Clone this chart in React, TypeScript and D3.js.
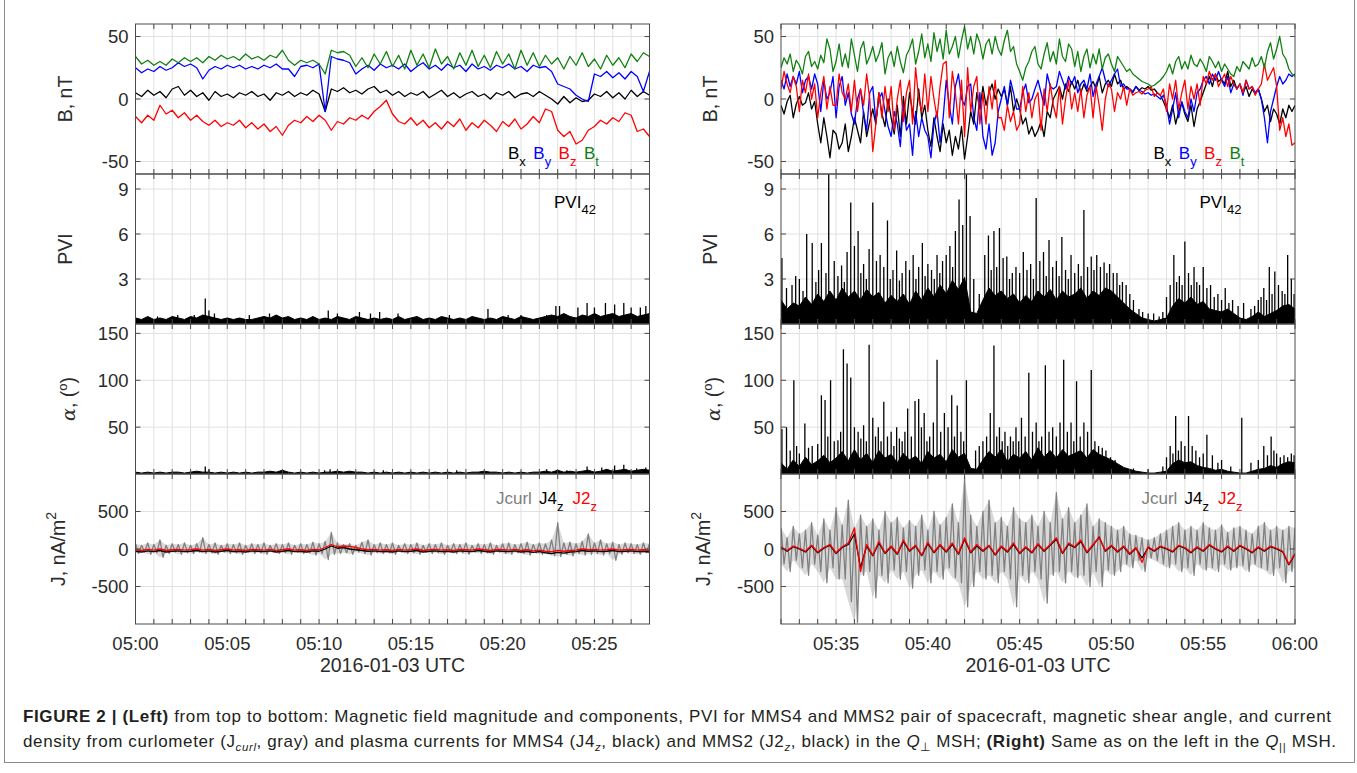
import React from "react";
import * as d3 from "d3";

// ---------------- DATA ----------------
const leftTimeTicks = [0, 5, 10, 15, 20, 25];
const leftTimeLabels = ["05:00", "05:05", "05:10", "05:15", "05:20", "05:25"];
const rightTimeTicks = [3, 8, 13, 18, 23, 28];
const rightTimeLabels = ["05:35", "05:40", "05:45", "05:50", "05:55", "06:00"];

const bTicks = [-50, 0, 50];
const pviTicks = [3, 6, 9];
const alphaTicks = [50, 100, 150];
const jTicks = [-500, 0, 500];

// Left (Q-perp) magnetic field, nT (20 s samples)
const leftBt = [34,28,31,27, 30,27,32, 29,33,30, 33,29,34, 31,35,32, 34,31,36, 32,34,31, 35,33,39, 31,27,31, 29,31,28, 20,39,37, 38,35,26, 33,25,36, 28,38,26, 35,24,39, 27,36,25, 40,28,34, 24,37,27, 39,26,35, 25,38,28, 36,24,39, 27,37,26, 35,28,33, 24,34,27, 37,26,32, 24,35,27, 33,25,36, 30,37,34];
const leftBy = [25,21,24,22, 26,23,25, 29,26,28, 25,16,23, 26,24,27, 25,27,24, 26,24,27, 25,28,24, 24,18,26, 27,25,28, -10,34,32, 31,29,20, 24,27,23, 28,25,27, 24,28,22, 26,29,24, 27,23,28, 25,27,22, 28,24,26, 23,27,25, 28,24,26, 22,27,25, 26,22,12, 10,8,3, 0,-2,20, 18,22,17, 21,16,22, 18,6,22];
const leftBx = [5,2,7,3, 6,1,8, 10,3,7, 2,5,-1, 6,2,4, 1,5,3, 6,2,4, -1,5,3, 6,2,5, 3,7,4, -10,8,6, 9,5,7, 4,8,10, 5,7,3, 6,2,5, 3,6,1, 4,7,2, 5,1,4, 6,2,4, 0,5,3, 6,1,4, 5,2,6, 3,0,-4, 2,-3,1, -2,-1,4, 2,6,1, 5,0,7, 2,6,3];
const leftBz = [-14,-19,-13,-17, -5,-12,-9, -15,-11,-17, -13,-18,-21, -17,-22,-19, -21,-17,-23, -19,-24,-20, -26,-22,-29, -21,-17,-19, -14,-18,-13, -17,-25,-18, -20,-15,-17, -13,-16,-10, -6,-1,-12, -18,-20,-15, -21,-17,-23, -19,-24,-18, -22,-16,-25, -19,-23,-17, -21,-26,-18, -22,-16,-24, -20,-14,-19, -8,-10,-25, -30,-26,-36, -33,-25,-22, -17,-20,-15, -18,-11,-13, -26,-24,-30];

// Right (Q-parallel) magnetic field, nT (10 s samples, one row per minute)
const rightBt = [
  25,33,28,36,22,31, 27,20,34,38,26,30, 24,35,29,48,40,22, 30,44,26,36,25,48,
  35,22,40,46,28,34, 42,30,36,45,20,33, 38,26,42,30,21,35, 40,48,28,38,52,33,
  44,30,53,38,48,32, 55,36,42,50,33,47, 58,40,50,36,52,45, 32,44,48,36,50,40,
  35,47,55,38,42,28, 22,15,25,30,38,42, 28,24,36,45,30,38, 28,48,34,30,44,40,
  26,38,22,34,40,25, 36,28,40,24,33,36, 28,22,34,30,26,22, 24,20,18,16,14,13,
  12,10,11,13,15,18, 22,28,20,30,34,24, 30,24,35,28,26,32, 28,22,34,30,25,30,
  22,28,24,20,18,26, 22,30,27,24,33,26, 28,34,25,38,45,32, 40,50,36,32,24,20, 18];
const rightBx = [
  -5,-12,-2,3,-15,-4, 2,-5,-3,5,-8,-2, -20,-35,-15,-30,-47,-25, -28,-40,-35,-20,-42,-30,
  -15,-25,-35,-10,-30,-18, -8,-20,5,-12,-22,0, -15,-28,-5,-30,2,-20, 5,-10,-20,8,-15,-5,
  -25,-38,-15,-30,-42,-20, -35,-25,-45,-30,-40,-22, -48,-30,-10,-20,5,-8, 10,-5,5,12,0,8,
  2,8,-5,10,-10,0, -8,-20,-15,-28,-22,-30, -25,-18,-30,-10,-15,0, 5,10,0,12,6,14,
  8,15,5,12,6,10, 14,8,18,5,12,15, 10,20,12,15,8,10, 8,6,10,7,9,8,
  10,7,8,5,3,-2, -8,-15,-5,-20,-10,-3, -12,-18,-5,-22,-8,-2, 5,12,18,10,20,14,
  16,12,22,10,15,8, 12,5,10,2,8,4, 8,0,-10,-5,-18,-8, -12,-20,-8,-15,-5,-10, -5];
const rightBy = [
  15,8,20,10,18,12, 22,5,15,18,8,20, 12,-10,15,0,5,18, -15,10,18,-5,5,-12,
  -20,0,8,-12,-25,5, 10,-18,0,5,-10,-22, -30,-10,-20,-38,-5,-25, -20,-45,-10,-30,-15,-25,
  -30,-47,-20,-10,-35,-15, 15,-5,-20,10,20,0, -5,10,12,-15,-25,5, -30,-40,-20,-45,-35,-10,
  0,10,-5,15,5,-8, -8,5,12,-3,0,8, 15,5,-5,20,10,8, 10,22,15,8,18,12,
  18,5,12,15,8,20, 2,12,18,25,15,10, 15,20,24,10,12,8, 8,5,10,7,6,4,
  5,3,4,2,0,3, -5,-20,-8,5,-15,-2, -10,-15,0,-10,5,8, 15,18,12,20,15,22,
  15,10,18,5,12,8, 12,3,15,8,10,5, 8,0,-15,-35,-10,0, 10,18,12,15,20,18, 20];
const rightBz = [
  8,22,12,5,18,10, -10,15,5,20,0,12, -15,5,18,-8,10,-5, -5,20,5,0,12,-10,
  15,-10,8,-5,20,0, -42,-20,5,-15,10,-10, 10,-25,0,15,-18,5, 15,-20,25,0,-10,20,
  -10,18,0,-15,10,28, 30,-15,22,5,-20,15, -30,25,-10,10,18,-20, 5,-20,10,-8,15,-15,
  -15,-25,-5,-18,-10,-25, -20,10,-10,5,-15,0, 5,-25,8,-10,12,-5, -15,10,-20,0,15,-8,
  5,-10,8,-15,3,10, -15,10,-5,-25,0,12, 8,-10,5,0,10,-5, 8,3,5,6,4,7,
  8,10,2,5,3,8, -10,12,0,15,-8,5, 15,-8,10,0,12,-5, 18,12,22,15,20,10,
  15,20,10,18,12,8, 12,5,15,8,10,3, 8,12,28,15,20,25, 10,-25,-15,-30,-20,-37, -35];

// PVI: dense body level + individual spikes [minute, value]
const leftPviBody = [0.4,0.3,0.5,0.3,0.4,0.3,0.5,0.4,0.3,0.5,0.4,0.6,0.5,0.4,0.3,0.4,0.3,0.4,0.3,0.3,0.4, 0.5,0.4,0.6,0.4,0.5,0.3,0.4,0.3,0.5,0.3,0.4,0.3,0.5,0.4,0.3,0.5,0.4,0.3,0.4,0.3, 0.4,0.3,0.5,0.3,0.4,0.5,0.3,0.4,0.3,0.5,0.4,0.3,0.4,0.3,0.5,0.4,0.3,0.4,0.3,0.5, 0.4,0.3,0.5,0.4,0.3,0.4,0.5,0.6,0.5,0.7,0.5,0.4,0.6,0.5,0.7,0.5,0.6,0.7,0.5,0.6,0.7,0.5,0.6,0.7];
const leftPviSpikes: [number, number][] = [[1.2,0.5],[2.3,0.6],[3.2,0.6],[3.8,1.7],[4.0,0.9],[4.3,0.7],[6.2,0.6],[7.3,0.7],[10.5,0.9],[11.0,0.7],[12.2,0.8],[12.8,0.7],[13.3,0.8],[14.3,0.7],[17.1,0.6],[19.2,1.0],[20.3,0.6],[21.0,0.6],[22.4,0.6],[22.9,1.2],[23.1,1.2],[24.1,1.1],[24.6,1.4],[25.0,1.1],[25.6,1.4],[26.1,1.3],[26.6,1.4],[27.0,1.1],[27.5,1.1],[27.8,1.2]];
const rightPviBody = [1.6,1.0,1.4,1.2, 1.8,1.3,2.0, 1.5,2.2,1.6, 2.4,1.8,2.2, 1.6,2.3,1.8, 2.1,1.4,1.9, 1.5,2.0,1.3, 2.2,1.6,2.4, 1.8,2.6,2.0, 2.9,2.3,3.1, 0.8,0.7,1.6, 2.4,1.9,2.2, 1.7,2.0,1.4, 1.9,1.5,2.2, 1.8,2.3,1.6, 2.2,1.8,2.0, 2.4,1.7,2.2, 1.9,2.4,2.2, 1.8,1.4,1.0, 0.7,0.4,0.3, 0.2,0.3,0.4, 1.2,1.7,1.4, 1.8,1.3,1.5, 1.0,0.9,0.8, 1.0,0.7,0.4, 0.3,0.5,0.8, 0.5,0.7,0.9, 1.2,1.3,1.0];
const rightPviSpikes: [number, number][] = [[0.05,4.4],[0.3,2.4],[0.6,2.6],[0.8,3.2],[1.0,3.0],[1.2,2.2],[1.4,6.0],[1.7,5.4],[1.9,2.8],[2.05,3.6],[2.2,5.4],[2.45,3.4],[2.6,10],[2.9,4.2],[3.1,3.2],[3.3,3.9],[3.45,2.8],[3.6,4.8],[3.8,8.1],[4.0,5.2],[4.2,6.2],[4.35,3.4],[4.5,4.0],[4.65,3.0],[4.8,5.0],[5.0,8.1],[5.2,4.2],[5.4,4.6],[5.6,3.8],[5.8,6.9],[5.95,3.0],[6.1,3.6],[6.3,4.9],[6.45,2.9],[6.6,3.4],[6.8,4.2],[7.0,3.6],[7.2,4.6],[7.35,3.0],[7.5,3.8],[7.7,5.4],[7.85,3.2],[8.0,4.0],[8.2,3.6],[8.35,3.0],[8.5,4.6],[8.65,3.4],[8.8,4.2],[9.0,4.6],[9.2,5.2],[9.35,3.8],[9.5,6.2],[9.7,8.3],[9.9,6.6],[10.1,10],[10.3,7.2],[10.5,3.0],[10.8,2.0],[11.1,4.6],[11.3,5.9],[11.45,3.6],[11.6,6.2],[11.75,3.8],[11.9,6.4],[12.1,4.4],[12.3,4.5],[12.45,3.0],[12.6,3.4],[12.8,3.8],[13.0,3.4],[13.2,4.8],[13.4,3.6],[13.6,4.0],[13.75,3.0],[13.9,8.4],[14.1,4.2],[14.3,4.8],[14.45,3.2],[14.6,5.6],[14.8,3.8],[15.0,4.2],[15.15,3.2],[15.3,5.8],[15.5,3.6],[15.65,3.0],[15.8,4.6],[16.0,3.4],[16.2,4.0],[16.35,3.2],[16.5,7.6],[16.7,3.8],[16.9,4.5],[17.05,3.6],[17.2,4.6],[17.4,3.8],[17.6,4.1],[17.75,3.4],[17.9,4.0],[18.1,3.4],[18.3,3.4],[18.45,2.6],[18.6,2.8],[18.8,2.6],[19.0,2.0],[19.2,1.6],[19.5,1.0],[19.7,0.8],[20.0,0.7],[20.3,0.7],[20.6,0.5],[20.8,0.8],[21.0,1.8],[21.2,2.6],[21.4,4.6],[21.55,2.8],[21.7,3.2],[21.85,2.6],[22.0,5.5],[22.2,3.4],[22.35,2.6],[22.5,3.8],[22.65,2.8],[22.8,2.6],[23.0,3.8],[23.2,2.4],[23.4,2.6],[23.6,1.8],[23.8,2.0],[24.0,1.6],[24.2,2.4],[24.4,1.4],[24.6,1.6],[24.9,1.2],[25.2,1.4],[25.6,1.0],[25.8,1.2],[26.0,1.6],[26.15,1.8],[26.3,2.4],[26.45,1.6],[26.6,3.8],[26.75,2.0],[26.9,3.5],[27.1,2.6],[27.3,2.2],[27.45,2.0],[27.6,4.6],[27.8,3.0],[27.95,2.0]];

// Magnetic shear angle alpha, degrees
const leftAlphaBody = [2,1,2,1,2,1,2,2,1,2,3,2,2,1,2,1,2,1,2,1,2, 2,3,2,4,2,1,2,1,2,1,2,2,3,2,3,2,2,1,2,1, 2,1,2,1,2,1,2,1,2,1,2,1,2,1,2,2,3,2,2,1, 2,1,2,1,2,2,3,2,4,2,3,2,3,4,2,3,5,3,4,5,3,4,5,4];
const leftAlphaSpikes: [number, number][] = [[3.8,8],[4.0,5],[10.3,4],[10.6,5],[13.5,4],[17.5,4],[22.4,5],[23.5,4],[24.6,8],[25.4,7],[26.1,9],[26.6,10],[27.3,6],[27.8,7]];
const rightAlphaBody = [12,5,15,8, 18,10,14, 20,12,17, 24,14,26, 15,22,12, 25,17,21, 12,22,15, 19,11,24, 17,21,13, 26,18,22, 6,5,15, 24,18,26, 13,21,17, 24,15,28, 18,25,17, 26,19,22, 25,17,26, 21,18,15, 11,7,5, 3,2,1, 1,2,3, 11,15,12, 13,9,7, 6,4,5, 3,2,1, 1,3,5, 6,9,7, 11,13,12];
const rightAlphaSpikes: [number, number][] = [[0.05,48],[0.3,50],[0.5,25],[0.7,100],[0.85,30],[1.0,22],[1.3,54],[1.5,28],[1.7,30],[2.0,32],[2.2,84],[2.4,79],[2.55,40],[2.7,100],[2.9,35],[3.1,36],[3.25,45],[3.4,133],[3.6,118],[3.8,103],[4.0,50],[4.2,45],[4.35,38],[4.5,52],[4.65,35],[4.8,138],[5.0,60],[5.15,40],[5.3,50],[5.45,35],[5.6,77],[5.8,40],[6.0,45],[6.15,30],[6.3,50],[6.45,38],[6.6,35],[6.75,45],[6.9,70],[7.1,40],[7.3,78],[7.5,80],[7.65,50],[7.8,65],[7.95,35],[8.1,40],[8.3,55],[8.5,122],[8.7,45],[8.9,65],[9.1,50],[9.3,84],[9.45,40],[9.6,73],[9.8,45],[9.95,35],[10.1,100],[10.6,25],[10.8,30],[11.0,35],[11.2,40],[11.4,65],[11.6,137],[11.75,40],[11.9,50],[12.05,35],[12.2,45],[12.35,30],[12.5,40],[12.65,35],[12.8,50],[12.95,35],[13.1,60],[13.3,40],[13.5,108],[13.7,45],[13.9,55],[14.05,35],[14.2,40],[14.4,116],[14.6,45],[14.8,50],[15.0,40],[15.2,55],[15.4,122],[15.6,45],[15.8,55],[15.95,35],[16.1,99],[16.3,40],[16.5,55],[16.7,45],[16.9,111],[17.1,35],[17.3,30],[17.5,28],[17.7,25],[17.95,18],[18.2,15],[18.6,8],[19.2,6],[20.0,5],[20.8,8],[21.0,18],[21.2,30],[21.35,22],[21.5,62],[21.65,25],[21.8,35],[22.0,30],[22.2,62],[22.4,30],[22.6,25],[22.8,18],[23.0,22],[23.2,42],[23.5,20],[23.8,12],[24.0,15],[24.5,8],[25.1,60],[25.6,12],[26.0,15],[26.3,30],[26.5,20],[26.7,40],[26.85,25],[27.0,22],[27.2,18],[27.4,20],[27.6,18],[27.8,22],[27.95,20]];

// Current density, nA/m^2 : curlometer upper / lower excursions, J4z, J2z
const leftJcurlUp = [70,50,80,60,120,50,70,60,80,50,70,150,60,80,50,70,60,80,50,70,60, 80,50,70,60,80,50,70,60,90,70,100,220,80,60,70,50,90,120,60,80, 60,80,50,70,60,80,50,70,60,80,50,70,60,80,50,70,60,80,50,70, 80,60,70,90,60,80,70,120,350,80,90,70,100,200,80,120,70,90,60,80,70,60,80,70];
const leftJcurlLo = [-60,-40,-70,-50,-110,-60,-40,-70,-50,-60,-40,-60,-50,-70,-40,-60,-50,-70,-40,-60,-50, -70,-40,-60,-50,-70,-40,-60,-50,-80,-60,-140,-70,-60,-50,-70,-40,-60,-80,-50,-60, -50,-70,-40,-60,-50,-70,-40,-60,-50,-70,-40,-60,-50,-70,-40,-60,-50,-70,-40,-60, -70,-50,-60,-80,-50,-70,-60,-90,-100,-70,-90,-60,-80,-70,-60,-80,-60,-150,-70,-50,-60,-70,-50,-60];
const leftJ4z = [-30,-40,-25,-35,-20,-40,-30,-25,-35,-30,-20,-35,-25,-40,-30,-20,-35,-30,-40,-25,-30, -35,-25,-40,-30,-20,-35,-30,-40,-25,-30,0,40,10,20,0,-10,-20,-30,-25,-35, -30,-40,-25,-35,-30,-20,-40,-30,-25,-35,-30,-40,-25,-30,-35,-20,-30,-40,-25,-30, -35,-25,-40,-30,-45,-35,-50,-60,-45,-55,-40,-35,-20,-30,-25,-35,-30,-20,-35,-30,-25,-35,-30,-40];
const leftJ2z = [-10,-20,-5,-15,0,-20,-10,-5,-15,-10,0,-15,-5,-20,-10,0,-15,-10,-20,-5,-10, -15,-5,-20,-10,0,-15,-10,-20,-5,-10,20,60,30,40,35,20,0,-10,-5,-15, -10,-20,-5,-15,-10,0,-20,-10,-5,-15,-10,-20,-5,-10,-15,0,-10,-20,-5,-10, -15,-5,-20,-10,-25,-15,-30,-35,-20,-30,-20,-15,0,-10,-5,-15,-10,0,-15,-10,-5,-15,-10,-20];
const rightJcurlUp = [280,150,300,200, 250,350,180, 400,250,550, 320,650,280, 450,300,400, 250,500,350, 420,280,380, 300,450,250, 500,320,420, 600,350,950, 450,300,500, 650,350,420, 300,550,400, 350,450,300, 500,350,750, 400,550,350, 450,600,300, 400,350,300, 250,300,200, 180,150,120, 150,200,250, 300,350,250, 300,250,350, 280,250,320, 220,280,300, 250,200,300, 350,250,300, 250,300,280];
const rightJcurlLo = [-200,-300,-150,-250, -350,-200,-300, -450,-250,-400, -400,-700,-980, -350,-300,-650, -350,-450,-280, -400,-300,-520, -350,-280,-450, -300,-400,-250, -380,-450,-770, -500,-300,-400, -350,-450,-300, -400,-770,-350, -450,-300,-400, -720,-350,-300, -450,-300,-380, -350,-500,-300, -500,-280,-350, -300,-200,-250, -150,-300,-120, -150,-200,-250, -200,-300,-250, -350,-200,-280, -250,-300,-200, -280,-250,-220, -300,-200,-250, -280,-350,-250, -450,-300,-250];
const rightJ4z = [20,-30,30,0, -40,40,-50, 10,50,-60, 20,60,200, -250,40,-90, 80,-60,30, -70,100,-30, 40,-90,70, -50,50,-40, 60,-70,130, -50,40,-30, 40,-80,30, -40,60,-60, 20,-50,60, -30,50,130, -60,60,20, 100,-50,50, 160,-30,40, -40,30,-70, 10,-120,20, -30,30,0, -40,40,10, -50,20,-30, 50,0,-40, 30,-30,40, 0,-50,20, -30,30,0, -40,-210,-70];
const rightJ2z = [30,-20,40,10, -30,50,-40, 20,60,-50, 30,80,280, -300,60,-80, 100,-50,40, -60,120,-20, 50,-80,90, -40,60,-30, 80,-60,150, -40,60,-20, 50,-70,40, -30,80,-50, 30,-40,70, -20,60,150, -50,80,30, 120,-40,60, 150,-20,50, -30,40,-60, 20,-180,30, -20,40,10, -30,50,20, -40,30,-20, 60,10,-30, 40,-20,50, 10,-40,30, -20,40,10, -30,-200,-60];

const bLegendSubs = ["x", "y", "z", "t"];
const xAxisTitle = "2016-01-03 UTC";

// ---------------- LAYOUT ----------------
const W = 1357;
const H = 773;
const SPAN = 28; // minutes per panel
const PW = 514;
const PH = 150;
const TOPS = [24, 174, 324, 474];
const LEFT_X0 = 135.5;
const RIGHT_X0 = 781;
const FONT = "'Liberation Sans', Arial, Helvetica, sans-serif";
const CAP_FONT = "'Liberation Sans Narrow', 'Liberation Sans', Arial, sans-serif";
const TXT = "#2b2b2b";
const GRID = "#e1e1e1";
const FRAME = "#4a4a4a";
const C_BLUE = "#0000ff";
const C_RED = "#ff0000";
const C_GREEN = "#108010";
const C_GRAY = "#808080";
const bColors = ["#000000", C_BLUE, C_RED, C_GREEN];

type SideData = {
  bx: number[]; by: number[]; bz: number[]; bt: number[];
  pviBody: number[]; pviSpikes: [number, number][];
  alphaBody: number[]; alphaSpikes: [number, number][];
  jUp: number[]; jLo: number[]; j4: number[]; j2: number[];
};

function Side({ id, x0, d, tickMin, tickLab }: { id: string; x0: number; d: SideData; tickMin: number[]; tickLab: string[] }) {
  const x = d3.scaleLinear().domain([0, SPAN]).range([x0, x0 + PW]);
  const yB = d3.scaleLinear().domain([-60, 60]).range([TOPS[0] + PH, TOPS[0]]);
  const yP = d3.scaleLinear().domain([0, 10]).range([TOPS[1] + PH, TOPS[1]]);
  const yA = d3.scaleLinear().domain([0, 160]).range([TOPS[2] + PH, TOPS[2]]);
  const yJ = d3.scaleLinear().domain([-1000, 1000]).range([TOPS[3] + PH, TOPS[3]]);
  const panels = [
    { top: TOPS[0], y: yB, ticks: bTicks },
    { top: TOPS[1], y: yP, ticks: pviTicks },
    { top: TOPS[2], y: yA, ticks: alphaTicks },
    { top: TOPS[3], y: yJ, ticks: jTicks },
  ];
  const tOf = (n: number) => (i: number) => (i * SPAN) / (n - 1);
  const lineOf = (arr: number[], y: d3.ScaleLinear<number, number>) => {
    const t = tOf(arr.length);
    return d3.line<number>().x((_, i) => x(t(i))).y((v) => y(v))(arr) || "";
  };
  const areaOf = (arr: number[], y: d3.ScaleLinear<number, number>) => {
    const t = tOf(arr.length);
    return d3.area<number>().x((_, i) => x(t(i))).y0(y(0)).y1((v) => y(v))(arr) || "";
  };
  const bandOf = (up: number[], lo: number[], y: d3.ScaleLinear<number, number>) => {
    const t = tOf(up.length);
    return d3.area<number>().x((_, i) => x(t(i))).y0((_, i) => y(lo[i])).y1((v) => y(v))(up) || "";
  };
  const spikes = (sp: [number, number][], y: d3.ScaleLinear<number, number>) =>
    sp.map(([t, v]) => `M${x(t)},${y(0)}V${y(v)}`).join("");
  const zig = (up: number[], lo: number[], y: d3.ScaleLinear<number, number>) => {
    const t = tOf(up.length);
    const half = SPAN / (up.length - 1) / 2;
    const pts: [number, number][] = [];
    up.forEach((u, i) => {
      pts.push([t(i), u]);
      pts.push([t(i) + half, lo[i]]);
    });
    return d3.line<[number, number]>().x((p) => x(p[0])).y((p) => y(p[1]))(pts) || "";
  };
  const minutes = d3.range(0, SPAN + 1);
  const clip = (k: number) => `url(#${id}-clip${k})`;

  return (
    <g>
      <defs>
        {panels.map((p, k) => (
          <clipPath id={`${id}-clip${k}`} key={k}>
            <rect x={x0} y={p.top} width={PW} height={PH} />
          </clipPath>
        ))}
      </defs>
      {panels.map((p, k) => (
        <g key={`g${k}`}>
          {minutes.slice(1, -1).map((m) => (
            <line key={m} x1={x(m)} x2={x(m)} y1={p.top} y2={p.top + PH} stroke={GRID} strokeWidth={1} />
          ))}
          {p.ticks.map((v) => (
            <line key={v} x1={x0} x2={x0 + PW} y1={p.y(v)} y2={p.y(v)} stroke={GRID} strokeWidth={1} />
          ))}
        </g>
      ))}
      <g clipPath={clip(0)} fill="none" strokeWidth={1.3} strokeLinejoin="round">
        <path d={lineOf(d.bx, yB)} stroke="#000" />
        <path d={lineOf(d.by, yB)} stroke={C_BLUE} />
        <path d={lineOf(d.bz, yB)} stroke={C_RED} />
        <path d={lineOf(d.bt, yB)} stroke={C_GREEN} />
      </g>
      <g clipPath={clip(1)}>
        <path d={areaOf(d.pviBody, yP)} fill="#000" stroke="#000" strokeWidth={1} />
        <path d={spikes(d.pviSpikes, yP)} stroke="#000" strokeWidth={1.3} fill="none" />
      </g>
      <g clipPath={clip(2)}>
        <path d={areaOf(d.alphaBody, yA)} fill="#000" stroke="#000" strokeWidth={1} />
        <path d={spikes(d.alphaSpikes, yA)} stroke="#000" strokeWidth={1.3} fill="none" />
      </g>
      <g clipPath={clip(3)} fill="none" strokeLinejoin="round">
        <path d={bandOf(d.jUp, d.jLo, yJ)} fill={C_GRAY} fillOpacity={0.3} stroke="none" />
        <path d={zig(d.jUp, d.jLo, yJ)} stroke={C_GRAY} strokeWidth={1.3} />
        <path d={lineOf(d.j4, yJ)} stroke="#000" strokeWidth={1.3} />
        <path d={lineOf(d.j2, yJ)} stroke={C_RED} strokeWidth={1.3} />
      </g>
      {panels.map((p, k) => (
        <g key={`f${k}`} stroke={FRAME} strokeWidth={1}>
          {minutes.map((m) => (
            <g key={m}>
              <line x1={x(m)} x2={x(m)} y1={p.top} y2={p.top + 5} />
              <line x1={x(m)} x2={x(m)} y1={p.top + PH} y2={p.top + PH - 5} />
            </g>
          ))}
          {p.ticks.map((v) => (
            <g key={v}>
              <line x1={x0} x2={x0 + 5} y1={p.y(v)} y2={p.y(v)} />
              <line x1={x0 + PW} x2={x0 + PW - 5} y1={p.y(v)} y2={p.y(v)} />
            </g>
          ))}
          <rect x={x0} y={p.top} width={PW} height={PH} fill="none" />
        </g>
      ))}
      {panels.map((p, k) => (
        <g key={`yl${k}`} fontFamily={FONT} fontSize={18.5} fill={TXT} textAnchor="end">
          {p.ticks.map((v) => (
            <text key={v} x={x0 - 7} y={p.y(v) + 6.5}>{String(v)}</text>
          ))}
        </g>
      ))}
      <g fontFamily={FONT} fontSize={18.5} fill={TXT} textAnchor="middle">
        {tickMin.map((m, i) => (
          <text key={m} x={x(m)} y={650}>{tickLab[i]}</text>
        ))}
        <text x={x0 + PW / 2} y={672} fontSize={19.5}>{xAxisTitle}</text>
      </g>
      <g fontFamily={FONT} fontSize={19.5} fill={TXT} textAnchor="middle">
        <text transform={`translate(${x0 - 64},${TOPS[0] + PH / 2}) rotate(-90)`}>B, nT</text>
        <text transform={`translate(${x0 - 64},${TOPS[1] + PH / 2}) rotate(-90)`}>PVI</text>
        <text transform={`translate(${x0 - 61},${TOPS[2] + PH / 2}) rotate(-90)`}>
          <tspan fontFamily="'DejaVu Serif', 'Liberation Serif', serif" fontStyle="italic" fontSize={19}>α</tspan>
          <tspan>{", ("}</tspan>
          <tspan fontSize={13} dy={-8}>o</tspan>
          <tspan dy={8}>)</tspan>
        </text>
        <text transform={`translate(${x0 - 71},${TOPS[3] + PH / 2}) rotate(-90)`}>
          <tspan>J, nA/m</tspan>
          <tspan fontSize={14} dy={-9}>2</tspan>
        </text>
      </g>
      <g fontFamily={FONT} fontSize={17}>
        {bLegendSubs.map((s, i) => (
          <text key={s} x={x0 + 372.5 + i * 25.3} y={159} fill={bColors[i]}>
            B<tspan fontSize={13} dy={7}>{s}</tspan>
          </text>
        ))}
        <text x={x0 + 418.5} y={207.5} fill="#000">
          PVI<tspan fontSize={13} dy={6}>42</tspan>
        </text>
        <text x={x0 + 360.5} y={504} fill={C_GRAY}>Jcurl</text>
        <text x={x0 + 403.5} y={504} fill="#000">
          J4<tspan fontSize={13} dy={7}>z</tspan>
        </text>
        <text x={x0 + 437} y={504} fill={C_RED}>
          J2<tspan fontSize={13} dy={7}>z</tspan>
        </text>
      </g>
    </g>
  );
}

const leftData: SideData = {
  bx: leftBx, by: leftBy, bz: leftBz, bt: leftBt,
  pviBody: leftPviBody, pviSpikes: leftPviSpikes,
  alphaBody: leftAlphaBody, alphaSpikes: leftAlphaSpikes,
  jUp: leftJcurlUp, jLo: leftJcurlLo, j4: leftJ4z, j2: leftJ2z,
};
const rightData: SideData = {
  bx: rightBx, by: rightBy, bz: rightBz, bt: rightBt,
  pviBody: rightPviBody, pviSpikes: rightPviSpikes,
  alphaBody: rightAlphaBody, alphaSpikes: rightAlphaSpikes,
  jUp: rightJcurlUp, jLo: rightJcurlLo, j4: rightJ4z, j2: rightJ2z,
};

export default function App() {
  const sub = { fontSize: 11.5, fontStyle: "italic" as const };
  return (
    <svg
      width={W}
      height={H}
      viewBox={`0 0 ${W} ${H}`}
      style={{ position: "absolute", left: 0, top: 0, display: "block", background: "#fff" }}
    >
      <rect x={0} y={0} width={W} height={H} fill="#fff" />
      <Side id="L" x0={LEFT_X0} d={leftData} tickMin={leftTimeTicks} tickLab={leftTimeLabels} />
      <Side id="R" x0={RIGHT_X0} d={rightData} tickMin={rightTimeTicks} tickLab={rightTimeLabels} />
      <rect x={4.5} y={-2} width={1350} height={764.5} fill="none" stroke="#8a8a8a" strokeWidth={1} />
      <g fontFamily={CAP_FONT} fontSize={17} fill="#231f20">
        <text x={23} y={722} textLength={1308} lengthAdjust="spacing">
          <tspan fontWeight="bold">FIGURE 2 | (Left)</tspan>
          {" from top to bottom: Magnetic field magnitude and components, PVI for MMS4 and MMS2 pair of spacecraft, magnetic shear angle, and current"}
        </text>
        <text x={23} y={747} textLength={1313} lengthAdjust="spacing">
          {"density from curlometer (J"}
          <tspan {...sub} dy={4}>curl</tspan>
          <tspan dy={-4}>{", gray) and plasma currents for MMS4 (J4"}</tspan>
          <tspan {...sub} dy={4}>z</tspan>
          <tspan dy={-4}>{", black) and MMS2 (J2"}</tspan>
          <tspan {...sub} dy={4}>z</tspan>
          <tspan dy={-4}>{", black) in the "}</tspan>
          <tspan fontStyle="italic">Q</tspan>
          <tspan fontSize={11.5} dy={4}>⊥</tspan>
          <tspan dy={-4}>{" MSH; "}</tspan>
          <tspan fontWeight="bold">(Right)</tspan>
          {" Same as on the left in the "}
          <tspan fontStyle="italic">Q</tspan>
          <tspan fontSize={11.5} dy={4}>||</tspan>
          <tspan dy={-4}>{" MSH."}</tspan>
        </text>
      </g>
    </svg>
  );
}
